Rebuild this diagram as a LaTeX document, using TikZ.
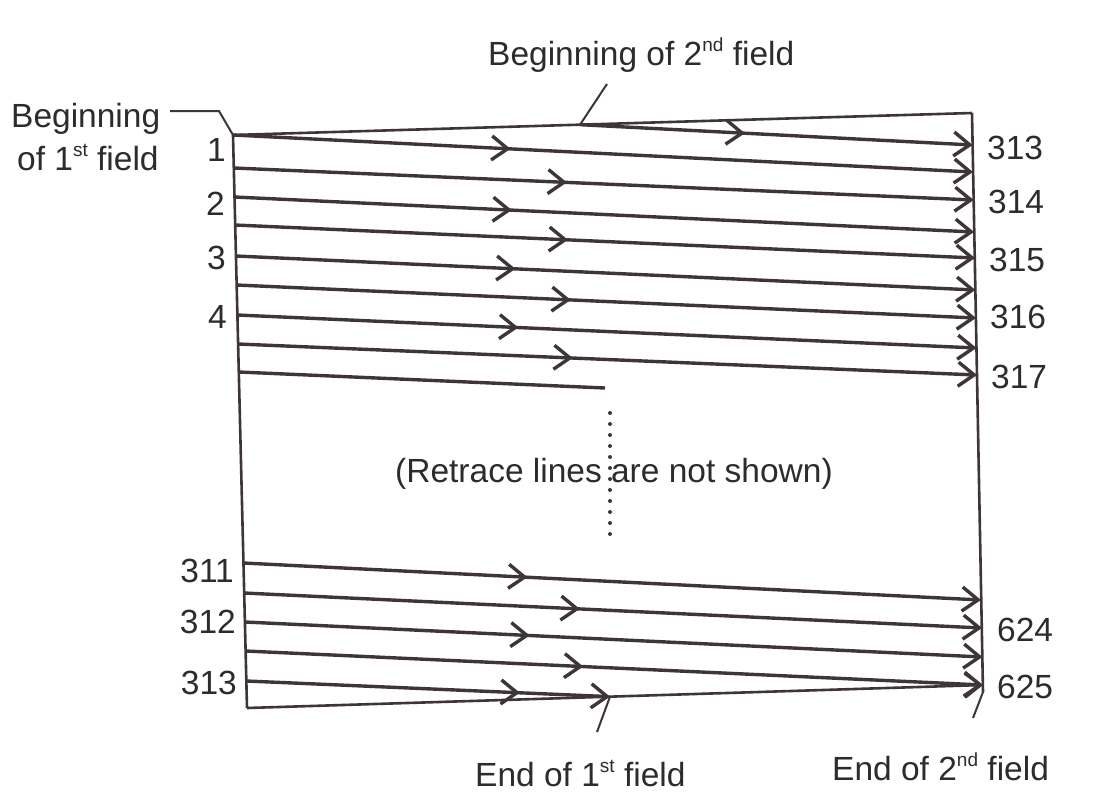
\documentclass[tikz,border=0pt]{standalone}
\usepackage{fontspec}
\setmainfont{Liberation Sans}
\usetikzlibrary{arrows.meta,decorations.markings,calc}
\definecolor{ink}{RGB}{62,52,57}
\definecolor{txt}{RGB}{45,43,45}
\newcommand{\supx}[1]{\raisebox{13.5pt}{\fontsize{19}{19}\selectfont #1}}
\begin{document}
\begin{tikzpicture}[x=1pt,y=-1pt,
  scan/.style={draw=ink, line width=3.4pt},
  edge/.style={draw=ink, line width=2.6pt},
  leader/.style={draw=ink, line width=2pt},
  tip/.style={-{Straight Barb[length=16pt,width=24pt]}},
  midarrow/.style={postaction={decorate}, decoration={markings, mark=at position #1 with {\arrow[ink]{Straight Barb[length=16pt,width=24pt]}}}},
  lbl/.style={text=txt, font=\fontsize{33.5}{40}\selectfont, inner sep=0pt},
]
\fill[white] (0,0) rectangle (1096,796);
\useasboundingbox (0,0) rectangle (1096,796);

% frame corners
\coordinate (TL) at (233,135);
\coordinate (TR) at (972,113);
\coordinate (BL) at (247,708);
\coordinate (BR) at (983,692);
\coordinate (B2) at ($(TL)!0.4696!(TR)$);

% left starts
\coordinate (s314) at (234,168);
\coordinate (s2)   at (234.5,197);
\coordinate (s315) at (235,225);
\coordinate (s3)   at (236,256);
\coordinate (s316) at (236.5,285);
\coordinate (s4)   at (237.5,315);
\coordinate (s317) at (238,344);
\coordinate (s5)   at (239,372);
\coordinate (s5e)  at (605,388);
\coordinate (s311) at (243.5,563);
\coordinate (sa)   at (244,593);
\coordinate (s312) at (245,622);
\coordinate (sb)   at (245.5,651);
\coordinate (s313) at (246.5,681);

% right ends
\coordinate (e313) at (972.6,145);
\coordinate (e1)   at (973,172);
\coordinate (e314) at (973.7,200);
\coordinate (e2)   at (974,232);
\coordinate (e315) at (975,258);
\coordinate (e3)   at (975.4,290);
\coordinate (e316) at (976,318);
\coordinate (e4)   at (976.5,348);
\coordinate (e317) at (977,375);
\coordinate (ea)   at (981,600);
\coordinate (e624) at (982,628);
\coordinate (eb)   at (982.5,657);
\coordinate (e625) at (983,685);
\coordinate (E1) at ($(BL)!0.4932!(e625)$);

% frame
\draw[edge] (TL) -- (BL);
\draw[edge] (TR) -- (BR);
\draw[edge] (TL) -- (TR);

% first block of scan lines
\draw[scan, tip, midarrow=0.42] (B2) -- (e313);
\draw[scan, tip, midarrow=0.375] (TL) -- (e1);
\draw[scan, tip, midarrow=0.45] (s314) -- (e314);
\draw[scan, tip, midarrow=0.375] (s2) -- (e2);
\draw[scan, tip, midarrow=0.45] (s315) -- (e315);
\draw[scan, tip, midarrow=0.378] (s3) -- (e3);
\draw[scan, tip, midarrow=0.452] (s316) -- (e316);
\draw[scan, tip, midarrow=0.38] (s4) -- (e4);
\draw[scan, tip, midarrow=0.453] (s317) -- (e317);
\draw[scan] (s5) -- (s5e);

% dotted continuation
\coordinate (d1) at (610,413);
\coordinate (d2) at (610,536);
\draw[ink, line width=4pt, line cap=round, dash pattern=on 0pt off 11pt] (d1) -- (d2);

% bottom block of scan lines
\draw[scan, tip, midarrow=0.385] (s311) -- (ea);
\draw[scan, tip, midarrow=0.455] (sa) -- (e624);
\draw[scan, tip, midarrow=0.386] (s312) -- (eb);
\draw[scan, tip, midarrow=0.458] (sb) -- (e625);
\draw[scan, tip, midarrow=0.752] (s313) -- (E1);
\draw[edge, tip] (BL) -- (e625);

% left labels
\node[lbl, anchor=east] (n1) at (226,150) {1};
\node[lbl, anchor=east] (n2) at (225,204) {2};
\node[lbl, anchor=east] (n3) at (226,258) {3};
\node[lbl, anchor=east] (n4) at (227,317) {4};
\node[lbl, anchor=east] (n311) at (234,571) {311};
\node[lbl, anchor=east] (n312) at (236,622) {312};
\node[lbl, anchor=east] (n313a) at (237,683) {313};

% right labels
\node[lbl, anchor=west] (r313) at (987,148) {313};
\node[lbl, anchor=west] (r314) at (988,202) {314};
\node[lbl, anchor=west] (r315) at (989,260) {315};
\node[lbl, anchor=west] (r316) at (990,317) {316};
\node[lbl, anchor=west] (r317) at (991,377) {317};
\node[lbl, anchor=west] (r624) at (997,630) {624};
\node[lbl, anchor=west] (r625) at (997,687) {625};

% annotations
\node[lbl, anchor=base west] (beg1a) at (11,127) {Beginning};
\node[lbl, anchor=base west] (beg1b) at (17,170) {of 1\supx{st} field};
\coordinate (lb1) at (170,111);
\coordinate (lb2) at (219,111);
\draw[leader] (lb1) -- (lb2) -- (TL);

\node[lbl, anchor=base west] (beg2) at (488,65) {Beginning of 2\supx{nd} field};
\coordinate (lb3) at (607,84);
\draw[leader] (B2) -- (lb3);

\node[lbl, anchor=base west] (ret) at (395,482) {(Retrace lines are not shown)};

\node[lbl, anchor=base west] (end1) at (475,786) {End of 1\supx{st} field};
\coordinate (lb4) at (597,732);
\draw[leader] (E1) -- (lb4);

\node[lbl, anchor=base west] (end2) at (832,780) {End of 2\supx{nd} field};
\coordinate (lb5) at (973,718);
\draw[leader] (BR) -- (lb5);
\end{tikzpicture}
\end{document}
